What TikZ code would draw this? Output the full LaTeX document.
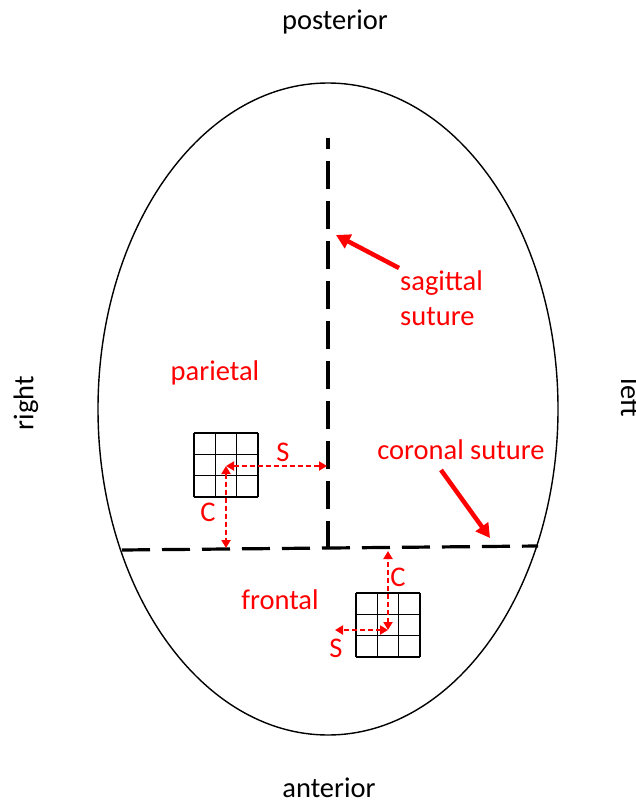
\documentclass[tikz,border=0pt]{standalone}
\usepackage{fontspec}
\setmainfont{Carlito}
\usetikzlibrary{arrows.meta}
\begin{document}
\begin{tikzpicture}[x=1pt,y=-1pt,
  lbl/.style={font=\fontsize{28.5}{35}\selectfont, inner sep=0pt},
  redlbl/.style={lbl, text=red},
  suture/.style={line width=3.2pt, dash pattern=on 28pt off 12pt},
  bigarrow/.style={red, line width=4.5pt, -{Triangle[length=14pt,width=15pt]}},
  measure/.style={red, line width=2pt, dash pattern=on 5pt off 3pt,
    {Triangle[length=8pt,width=9pt]}-{Triangle[length=8pt,width=9pt]}},
  gridline/.style={line width=1.4pt}]
\useasboundingbox (0,0) rectangle (636,802);
\clip (0,0) rectangle (636,802);
\draw[line width=1.4pt] (328,409) ellipse [x radius=230pt, y radius=326pt];
% sutures
\coordinate (sagTop) at (328,138);
\coordinate (sagBot) at (328,549);
\coordinate (corL) at (122,550);
\coordinate (corR) at (538,546);
\draw[suture] (sagBot) -- (sagTop);
\draw[suture] (corL) -- (corR);
% grids
\foreach \i in {0,1,2,3} {
  \draw[gridline] (194+21.33*\i,433) -- (194+21.33*\i,497);
  \draw[gridline] (194,433+21.33*\i) -- (258,433+21.33*\i);
  \draw[gridline] (356+21.33*\i,593) -- (356+21.33*\i,657);
  \draw[gridline] (356,593+21.33*\i) -- (420,593+21.33*\i);
}
% measurement arrows
\coordinate (g1c) at (226,466);
\coordinate (g1s) at (327,466);
\coordinate (g1b) at (226,548);
\coordinate (g2c) at (388,630);
\coordinate (g2t) at (388,551);
\coordinate (g2s) at (335,630);
\draw[measure] (g1c) -- (g1s);
\draw[measure] (g1c) -- (g1b);
\draw[measure] (g2c) -- (g2t);
\draw[measure] (g2c) -- (g2s);
\node[redlbl] (s1) at (283,452) {S};
\node[redlbl] (c1) at (208,512) {C};
\node[redlbl] (c2) at (398,577) {C};
\node[redlbl] (s2) at (336,648) {S};
% labels
\node[lbl] (post) at (335,22) {posterior};
\node[lbl] (ant) at (329,788) {anterior};
\node[lbl, rotate=90] (rgt) at (26,403) {right};
\node[lbl, rotate=-90] (lft) at (631,398) {left};
\node[redlbl] (par) at (215,373) {parietal};
\node[redlbl] (fro) at (280,600) {frontal};
\node[redlbl] (cor) at (461,450) {coronal suture};
\node[redlbl, align=left, anchor=west] (sag) at (400,298) {sagittal\\suture};
% pointer arrows
\coordinate (sagTip) at (336,235);
\coordinate (sagTail) at (399,268);
\coordinate (corTip) at (490,538);
\coordinate (corTail) at (441,470);
\draw[bigarrow] (sagTail) -- (sagTip);
\draw[bigarrow] (corTail) -- (corTip);
\end{tikzpicture}
\end{document}
